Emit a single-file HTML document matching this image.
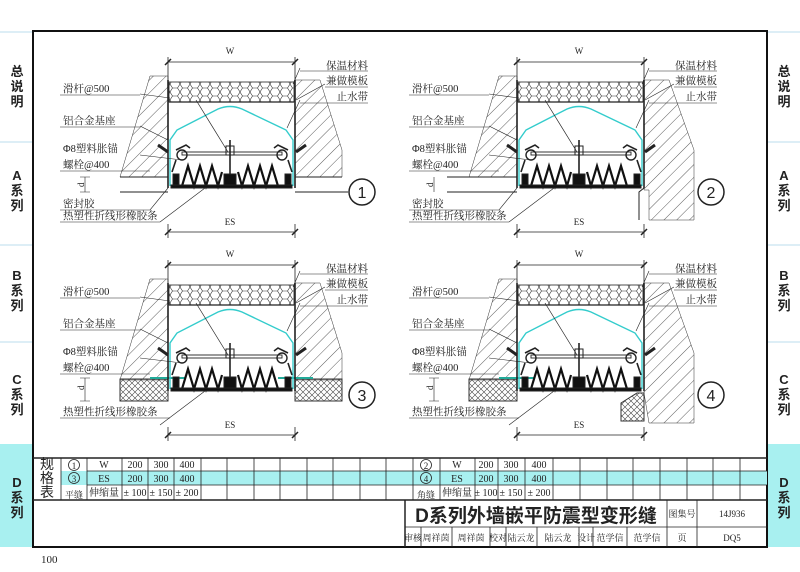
<!DOCTYPE html>
<html><head><meta charset="utf-8"><style>
html,body{margin:0;padding:0;background:#fff}
svg{display:block}
text{font-family:"Liberation Serif","Noto Serif CJK SC",serif;fill:#222}
.s, .s text{font-family:"Liberation Sans","Noto Sans CJK SC",sans-serif}
</style></head><body>
<svg width="800" height="572" viewBox="0 0 800 572" xmlns="http://www.w3.org/2000/svg">
<defs>
<pattern id="hatch" width="9" height="9" patternUnits="userSpaceOnUse" patternTransform="rotate(45)">
<line x1="0" y1="0" x2="0" y2="9" stroke="#333" stroke-width="0.8"/></pattern>
<pattern id="hex" width="10" height="8" patternUnits="userSpaceOnUse">
<path d="M0,4 L2.5,0 L7.5,0 L10,4 L7.5,8 L2.5,8 Z" fill="none" stroke="#333" stroke-width="0.6"/></pattern>
<pattern id="xh" width="6" height="6" patternUnits="userSpaceOnUse">
<path d="M0,0 L6,6 M6,0 L0,6" stroke="#444" stroke-width="0.6"/></pattern>
<g id="core" stroke="#222" fill="none">
<line x1="168" y1="62" x2="295" y2="62" stroke-width="0.8"/>
<line x1="168" y1="57" x2="168" y2="82" stroke-width="0.8"/>
<line x1="295" y1="57" x2="295" y2="82" stroke-width="0.8"/>
<path d="M165,65 L171,59 M292,65 L298,59" stroke-width="1.5"/>
<line x1="168" y1="232" x2="295" y2="232" stroke-width="0.8"/>
<line x1="168" y1="224" x2="168" y2="238" stroke-width="0.8"/>
<line x1="295" y1="224" x2="295" y2="238" stroke-width="0.8"/>
<path d="M165,235 L171,229 M292,235 L298,229" stroke-width="1.5"/>
<rect x="169" y="82" width="125" height="20" fill="url(#hex)" stroke-width="0.8"/>
<line x1="169" y1="102" x2="294" y2="102" stroke-width="1.2"/>
<line x1="168" y1="80" x2="168" y2="188" stroke-width="1.6"/>
<line x1="295" y1="80" x2="295" y2="188" stroke-width="1.6"/>
<path d="M170,186 L170,140 L177,130 L218,109 Q230,104 242,109 L286,130 L293,140 L293,186" stroke="#3cc" stroke-width="1.4"/>
<rect x="182" y="152" width="100" height="3" stroke-width="0.9"/>
<circle cx="182" cy="155" r="5" stroke-width="1.4"/>
<circle cx="282" cy="155" r="5" stroke-width="1.4"/>
<path d="M176,150 L186,145 L190,148 M288,150 L278,145 L274,148 M176,160 L172,172 M288,160 L292,172" stroke-width="1.6"/>
<rect x="226" y="146" width="8" height="9" stroke-width="1"/>
<line x1="230" y1="140" x2="230" y2="175" stroke-width="1.6"/>
<line x1="196" y1="100" x2="228" y2="152" stroke-width="0.7"/>
<path d="M182,186 L188,166 L194,186 L200,166 L206,186 L212,166 L218,186 L222,172 M238,172 L242,186 L248,166 L254,186 L260,166 L266,186 L272,166 L278,186" stroke="#111" stroke-width="2.2"/>
<rect x="171" y="185" width="121" height="3" fill="#111"/>
<rect x="173" y="174" width="6" height="11" fill="#111"/>
<rect x="224" y="174" width="12" height="11" fill="#111"/>
<rect x="285" y="174" width="6" height="11" fill="#111"/>
<path d="M158,145 L168,152 M296,152 L306,145" stroke-width="3"/>
<path d="M300,68 L293,84 M325,84 L296,100 M300,100 L287,128 M140,94 L170,98 M140,126 L168,140 M140,155 L182,160 M160,222 L205,188" stroke-width="0.6"/>
<circle cx="362" cy="192" r="13" stroke-width="1.5"/>
</g>
<polygon id="wl" points="120,177 168,177 168,76 150,76" fill="url(#hatch)" stroke="#333" stroke-width="0.5"/>
<polygon id="wr" points="295,80 320,80 342,150 342,177 295,177" fill="url(#hatch)" stroke="#333" stroke-width="0.5"/>
</defs>

<!-- side tabs -->
<g class="s" font-size="13" font-weight="bold">
<rect x="0" y="444" width="32" height="103" fill="#a8f0f0"/>
<rect x="768" y="444" width="32" height="103" fill="#a8f0f0"/>
<g stroke="#bde">
<line x1="0" y1="32" x2="32" y2="32"/><line x1="0" y1="142" x2="32" y2="142"/>
<line x1="0" y1="245" x2="32" y2="245"/><line x1="0" y1="342" x2="32" y2="342"/>
<line x1="768" y1="32" x2="800" y2="32"/><line x1="768" y1="142" x2="800" y2="142"/>
<line x1="768" y1="245" x2="800" y2="245"/><line x1="768" y1="342" x2="800" y2="342"/>
</g>
<g text-anchor="middle">
<text x="17" y="76">总</text><text x="17" y="91">说</text><text x="17" y="106">明</text>
<text x="17" y="180">A</text><text x="17" y="195">系</text><text x="17" y="210">列</text>
<text x="17" y="280">B</text><text x="17" y="295">系</text><text x="17" y="310">列</text>
<text x="17" y="384">C</text><text x="17" y="399">系</text><text x="17" y="414">列</text>
<text x="17" y="487">D</text><text x="17" y="502">系</text><text x="17" y="517">列</text>
<text x="784" y="76">总</text><text x="784" y="91">说</text><text x="784" y="106">明</text>
<text x="784" y="180">A</text><text x="784" y="195">系</text><text x="784" y="210">列</text>
<text x="784" y="280">B</text><text x="784" y="295">系</text><text x="784" y="310">列</text>
<text x="784" y="384">C</text><text x="784" y="399">系</text><text x="784" y="414">列</text>
<text x="784" y="487">D</text><text x="784" y="502">系</text><text x="784" y="517">列</text>
</g></g>

<rect x="33" y="31" width="734" height="516" fill="none" stroke="#111" stroke-width="2"/>

<!-- panels -->
<g>
<use href="#wl"/><use href="#wr"/>
<path d="M120,177 L168,177 M120,192 L168,192 M295,177 L342,177 M295,192 L348,192" stroke="#222" stroke-width="1" fill="none"/>
<use href="#core"/>
</g>
<g transform="translate(349,0)">
<use href="#wl"/>
<polygon points="295,80 320,80 345,150 345,220 300,220 300,190 295,190" fill="url(#hatch)" stroke="#333" stroke-width="0.5"/>
<path d="M98,177 L168,177 M98,192 L168,192 M295,188 L290,192 L290,220" stroke="#222" stroke-width="1" fill="none"/>
<use href="#core"/>
</g>
<g transform="translate(0,203)">
<use href="#wl"/><use href="#wr"/>
<rect x="120" y="176" width="48" height="22" fill="url(#xh)" stroke="#333"/>
<rect x="295" y="176" width="47" height="22" fill="url(#xh)" stroke="#333"/>
<path d="M150,175 L185,175 M278,175 L313,175" stroke="#2a9" stroke-width="2"/>
<use href="#core"/>
</g>
<g transform="translate(349,203)">
<use href="#wl"/>
<polygon points="295,80 320,80 345,150 345,220 300,220 295,190" fill="url(#hatch)" stroke="#333" stroke-width="0.5"/>
<rect x="120" y="176" width="48" height="22" fill="url(#xh)" stroke="#333"/>
<polygon points="272,200 288,190 295,190 295,218 272,218" fill="url(#xh)" stroke="#333"/>
<path d="M150,175 L185,175" stroke="#2a9" stroke-width="2"/>
<use href="#core"/>
</g>

<!-- panel labels -->
<g font-size="10.5">
<text x="230" y="54" text-anchor="middle" font-size="9">W</text>
<text x="230" y="225" text-anchor="middle" font-size="9">ES</text>
<text x="63" y="92">滑杆@500</text>
<text x="63" y="124">铝合金基座</text>
<text x="63" y="152">Φ8塑料胀锚</text>
<text x="63" y="168">螺栓@400</text>
<text x="368" y="69" text-anchor="end">保温材料</text>
<text x="368" y="84" text-anchor="end">兼做模板</text>
<text x="368" y="100" text-anchor="end">止水带</text>
<path d="M60,95 L140,95 M60,127 L140,127 M60,171 L150,171 M300,71 L368,71 M325,87 L368,87 M300,103 L368,103 M80,177 L90,177 M80,192 L90,192 M85,177 L85,192" stroke="#222" stroke-width="0.6" fill="none"/>
<text x="84" y="187" font-size="9" transform="rotate(-90 84 187)">d</text>
<text x="63" y="207">密封胶</text>
<text x="63" y="219">热塑性折线形橡胶条</text>
<path d="M60,222 L160,222 M60,210 L150,210 L168,188" stroke="#222" stroke-width="0.6" fill="none"/>
<text x="362" y="198" text-anchor="middle" font-size="16" class="s">1</text>
<g transform="translate(349,0)">
<text x="230" y="54" text-anchor="middle" font-size="9">W</text>
<text x="230" y="225" text-anchor="middle" font-size="9">ES</text>
<text x="63" y="92">滑杆@500</text><text x="63" y="124">铝合金基座</text>
<text x="63" y="152">Φ8塑料胀锚</text><text x="63" y="168">螺栓@400</text>
<text x="368" y="69" text-anchor="end">保温材料</text><text x="368" y="84" text-anchor="end">兼做模板</text><text x="368" y="100" text-anchor="end">止水带</text>
<text x="84" y="187" font-size="9" transform="rotate(-90 84 187)">d</text>
<text x="63" y="207">密封胶</text><text x="63" y="219">热塑性折线形橡胶条</text>
<path d="M60,95 L140,95 M60,127 L140,127 M60,171 L150,171 M300,71 L368,71 M325,87 L368,87 M300,103 L368,103 M60,222 L160,222 M60,210 L150,210 L168,188 M85,177 L85,192" stroke="#222" stroke-width="0.6" fill="none"/>
<text x="362" y="198" text-anchor="middle" font-size="16" class="s">2</text>
</g>
<g transform="translate(0,203)">
<text x="230" y="54" text-anchor="middle" font-size="9">W</text>
<text x="230" y="225" text-anchor="middle" font-size="9">ES</text>
<text x="63" y="92">滑杆@500</text><text x="63" y="124">铝合金基座</text>
<text x="63" y="152">Φ8塑料胀锚</text><text x="63" y="168">螺栓@400</text>
<text x="368" y="69" text-anchor="end">保温材料</text><text x="368" y="84" text-anchor="end">兼做模板</text><text x="368" y="100" text-anchor="end">止水带</text>
<text x="84" y="187" font-size="9" transform="rotate(-90 84 187)">d</text>
<text x="63" y="212">热塑性折线形橡胶条</text>
<path d="M60,95 L140,95 M60,127 L140,127 M60,171 L150,171 M300,71 L368,71 M325,87 L368,87 M300,103 L368,103 M60,215 L170,215 M85,175 L85,198 M80,175 L90,175 M80,198 L90,198" stroke="#222" stroke-width="0.6" fill="none"/>
<text x="362" y="198" text-anchor="middle" font-size="16" class="s">3</text>
</g>
<g transform="translate(349,203)">
<text x="230" y="54" text-anchor="middle" font-size="9">W</text>
<text x="230" y="225" text-anchor="middle" font-size="9">ES</text>
<text x="63" y="92">滑杆@500</text><text x="63" y="124">铝合金基座</text>
<text x="63" y="152">Φ8塑料胀锚</text><text x="63" y="168">螺栓@400</text>
<text x="368" y="69" text-anchor="end">保温材料</text><text x="368" y="84" text-anchor="end">兼做模板</text><text x="368" y="100" text-anchor="end">止水带</text>
<text x="84" y="187" font-size="9" transform="rotate(-90 84 187)">d</text>
<text x="63" y="212">热塑性折线形橡胶条</text>
<path d="M60,95 L140,95 M60,127 L140,127 M60,171 L150,171 M300,71 L368,71 M325,87 L368,87 M300,103 L368,103 M60,215 L170,215 M85,175 L85,198 M80,175 L90,175 M80,198 L90,198" stroke="#222" stroke-width="0.6" fill="none"/>
<text x="362" y="198" text-anchor="middle" font-size="16" class="s">4</text>
</g>
</g>

<!-- table -->
<rect x="61" y="471" width="706" height="14" fill="#a8f0f0"/>
<g stroke="#222" stroke-width="0.8" fill="none">
<line x1="33" y1="458" x2="767" y2="458" stroke-width="1.5"/>
<line x1="87" y1="471" x2="767" y2="471"/>
<line x1="87" y1="485" x2="767" y2="485"/>
<line x1="33" y1="500" x2="767" y2="500" stroke-width="1.5"/>
<path d="M61,458 V500 M87,458 V500 M122,458 V500 M148,458 V500 M174,458 V500 M201,458 V500 M227,458 V500 M254,458 V500 M280,458 V500 M307,458 V500 M333,458 V500 M360,458 V500 M386,458 V500 M413,458 V500 M440,458 V500 M475,458 V500 M498,458 V500 M525,458 V500 M553,458 V500 M580,458 V500 M607,458 V500 M633,458 V500 M660,458 V500 M687,458 V500 M713,458 V500 M740,458 V500"/>
<line x1="405" y1="500" x2="405" y2="547" stroke-width="1.5"/>
<line x1="405" y1="527" x2="767" y2="527"/>
<path d="M667,500 V547 M697,500 V547 M421,527 V547 M452,527 V547 M490,527 V547 M506,527 V547 M537,527 V547 M579,527 V547 M593,527 V547 M627,527 V547"/>
<circle cx="74" cy="465" r="5.5"/><circle cx="74" cy="478" r="5.5"/>
<circle cx="426" cy="465" r="5.5"/><circle cx="426" cy="478" r="5.5"/>
</g>
<g font-size="10" text-anchor="middle">
<text x="47" y="469" font-size="14" class="s">规</text><text x="47" y="483" font-size="14" class="s">格</text><text x="47" y="497" font-size="14" class="s">表</text>
<text x="74" y="469" font-size="9">1</text><text x="74" y="482" font-size="9">3</text><text x="74" y="498" font-size="9">平缝</text>
<text x="426" y="469" font-size="9">2</text><text x="426" y="482" font-size="9">4</text><text x="426" y="498" font-size="9">角缝</text>
<text x="104" y="468">W</text><text x="135" y="468">200</text><text x="161" y="468">300</text><text x="187" y="468">400</text>
<text x="104" y="482">ES</text><text x="135" y="482">200</text><text x="161" y="482">300</text><text x="187" y="482">400</text>
<text x="104" y="496">伸缩量</text><text x="135" y="496">± 100</text><text x="161" y="496">± 150</text><text x="187" y="496">± 200</text>
<text x="457" y="468">W</text><text x="486" y="468">200</text><text x="511" y="468">300</text><text x="539" y="468">400</text>
<text x="457" y="482">ES</text><text x="486" y="482">200</text><text x="511" y="482">300</text><text x="539" y="482">400</text>
<text x="457" y="496">伸缩量</text><text x="486" y="496">± 100</text><text x="511" y="496">± 150</text><text x="539" y="496">± 200</text>
<text x="536" y="522" font-size="19" font-weight="bold" class="s">D系列外墙嵌平防震型变形缝</text>
<text x="682" y="517" font-size="9">图集号</text><text x="732" y="517" font-size="9">14J936</text>
<g font-size="9"><text x="413" y="541">审核</text><text x="436" y="541">周祥茵</text><text x="471" y="541">周祥茵</text><text x="498" y="541">校对</text><text x="521" y="541">陆云龙</text><text x="558" y="541">陆云龙</text><text x="586" y="541">设计</text><text x="610" y="541">范学信</text><text x="647" y="541">范学信</text><text x="682" y="541">页</text><text x="732" y="541">DQ5</text></g>
</g>
<text x="41" y="563" font-size="11">100</text>
</svg>
</body></html>
